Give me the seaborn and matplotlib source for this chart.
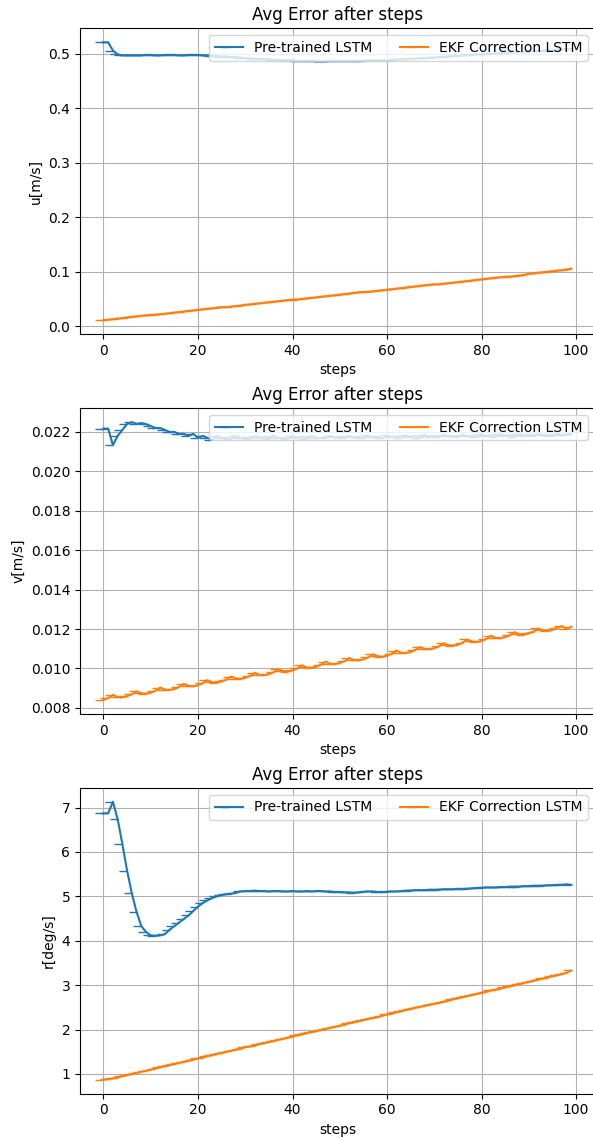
import matplotlib
matplotlib.use("Agg")
import matplotlib.pyplot as plt
import pandas as pd
import seaborn as sns

# x axis
steps = list(range(100))

# u[m/s]
u_pretrained = [
    0.521, 0.521, 0.506, 0.499, 0.497, 0.497, 0.497, 0.497, 0.497, 0.498,
    0.498, 0.497, 0.497, 0.498, 0.498, 0.498, 0.497, 0.497, 0.498, 0.498,
    0.498, 0.497, 0.497, 0.496, 0.496, 0.495, 0.495, 0.494, 0.494, 0.493,
    0.492, 0.492, 0.491, 0.491, 0.490, 0.490, 0.489, 0.489, 0.488, 0.488,
    0.488, 0.487, 0.487, 0.487, 0.487, 0.486, 0.486, 0.486, 0.487, 0.487,
    0.487, 0.487, 0.487, 0.487, 0.487, 0.487, 0.488, 0.488, 0.488, 0.488,
    0.488, 0.489, 0.489, 0.490, 0.490, 0.491, 0.491, 0.492, 0.492, 0.493,
    0.493, 0.494, 0.494, 0.495, 0.496, 0.496, 0.497, 0.497, 0.498, 0.499,
    0.499, 0.500, 0.500, 0.501, 0.501, 0.502, 0.502, 0.503, 0.503, 0.504,
    0.504, 0.505, 0.505, 0.506, 0.506, 0.507, 0.507, 0.508, 0.508, 0.509,
]
u_ekf = [
    0.011, 0.012, 0.013, 0.014, 0.015, 0.016, 0.017, 0.018, 0.019, 0.020,
    0.021, 0.021, 0.022, 0.023, 0.024, 0.025, 0.026, 0.027, 0.028, 0.029,
    0.030, 0.031, 0.032, 0.033, 0.034, 0.035, 0.035, 0.036, 0.037, 0.038,
    0.039, 0.040, 0.041, 0.042, 0.043, 0.044, 0.045, 0.046, 0.047, 0.048,
    0.049, 0.049, 0.050, 0.051, 0.052, 0.053, 0.054, 0.055, 0.056, 0.057,
    0.058, 0.059, 0.060, 0.061, 0.062, 0.063, 0.063, 0.064, 0.065, 0.066,
    0.067, 0.068, 0.069, 0.070, 0.071, 0.072, 0.073, 0.074, 0.075, 0.076,
    0.077, 0.077, 0.078, 0.079, 0.080, 0.081, 0.082, 0.083, 0.084, 0.085,
    0.086, 0.087, 0.088, 0.089, 0.090, 0.091, 0.091, 0.092, 0.093, 0.094,
    0.096, 0.097, 0.098, 0.099, 0.100, 0.101, 0.102, 0.103, 0.104, 0.106,
]

# v[m/s]
v_pretrained = [
    0.02217, 0.02217, 0.02133, 0.0218, 0.0221, 0.0224, 0.0225, 0.0224, 0.02245, 0.0224,
    0.0223, 0.0222, 0.0222, 0.0221, 0.0220, 0.0220, 0.0219, 0.0219, 0.0218, 0.0219,
    0.0217, 0.0218, 0.0217, 0.0216, 0.0218, 0.0217, 0.0217, 0.02165, 0.0218, 0.0217,
    0.0217, 0.02165, 0.0218, 0.0217, 0.02175, 0.02165, 0.0218, 0.0217, 0.0217, 0.02165,
    0.0218, 0.0217, 0.02175, 0.02165, 0.0218, 0.0217, 0.0217, 0.02168, 0.0218, 0.02172,
    0.02175, 0.02168, 0.0218, 0.02172, 0.02175, 0.02168, 0.02182, 0.02173, 0.02176, 0.02168,
    0.02182, 0.02174, 0.02177, 0.0217, 0.02183, 0.02175, 0.02178, 0.0217, 0.02184, 0.02176,
    0.02179, 0.02172, 0.02185, 0.02177, 0.0218, 0.02173, 0.02186, 0.02178, 0.02181, 0.02174,
    0.02187, 0.02179, 0.02182, 0.02175, 0.02188, 0.0218, 0.02183, 0.02176, 0.02189, 0.02181,
    0.02184, 0.02177, 0.0219, 0.02182, 0.02185, 0.02178, 0.0219, 0.02183, 0.02186, 0.0219,
]
v_ekf = [
    0.00840, 0.00850, 0.00866, 0.00855, 0.00853, 0.00859, 0.00869, 0.00884, 0.00874, 0.00872,
    0.00878, 0.00887, 0.00903, 0.00893, 0.00891, 0.00896, 0.00906, 0.00922, 0.00912, 0.00909,
    0.00915, 0.00925, 0.00941, 0.00930, 0.00928, 0.00934, 0.00944, 0.00959, 0.00949, 0.00947,
    0.00953, 0.00962, 0.00978, 0.00968, 0.00966, 0.00971, 0.00981, 0.00997, 0.00987, 0.00984,
    0.00990, 0.01000, 0.01016, 0.01005, 0.01003, 0.01009, 0.01019, 0.01034, 0.01024, 0.01022,
    0.01028, 0.01037, 0.01053, 0.01043, 0.01041, 0.01046, 0.01056, 0.01072, 0.01062, 0.01059,
    0.01065, 0.01075, 0.01091, 0.01080, 0.01078, 0.01084, 0.01094, 0.01109, 0.01099, 0.01097,
    0.01103, 0.01112, 0.01128, 0.01118, 0.01116, 0.01121, 0.01131, 0.01147, 0.01137, 0.01134,
    0.01140, 0.01150, 0.01166, 0.01155, 0.01153, 0.01159, 0.01169, 0.01184, 0.01174, 0.01172,
    0.01178, 0.01187, 0.01203, 0.01193, 0.01191, 0.01196, 0.01206, 0.01215, 0.01200, 0.01212,
]

# r[deg/s]
r_pretrained = [
    6.87, 6.87, 7.13, 6.74, 6.18, 5.58, 5.07, 4.65, 4.33, 4.20,
    4.12, 4.11, 4.12, 4.15, 4.25, 4.33, 4.41, 4.49, 4.57, 4.67,
    4.77, 4.85, 4.91, 4.96, 5.00, 5.03, 5.05, 5.06, 5.08, 5.11,
    5.12, 5.12, 5.13, 5.12, 5.12, 5.11, 5.12, 5.12, 5.11, 5.11,
    5.12, 5.11, 5.11, 5.12, 5.11, 5.12, 5.12, 5.11, 5.11, 5.10,
    5.10, 5.09, 5.09, 5.08, 5.09, 5.10, 5.11, 5.11, 5.10, 5.10,
    5.10, 5.11, 5.11, 5.12, 5.13, 5.13, 5.14, 5.14, 5.14, 5.15,
    5.15, 5.15, 5.16, 5.16, 5.16, 5.17, 5.17, 5.17, 5.18, 5.19,
    5.19, 5.20, 5.20, 5.20, 5.21, 5.21, 5.22, 5.22, 5.22, 5.23,
    5.23, 5.24, 5.24, 5.24, 5.25, 5.25, 5.26, 5.26, 5.27, 5.26,
]
r_ekf = [
    0.87, 0.88, 0.90, 0.92, 0.95, 0.97, 1.00, 1.02, 1.05, 1.07,
    1.10, 1.12, 1.15, 1.17, 1.20, 1.22, 1.25, 1.27, 1.30, 1.32,
    1.35, 1.37, 1.40, 1.42, 1.45, 1.47, 1.50, 1.52, 1.55, 1.57,
    1.60, 1.62, 1.64, 1.67, 1.69, 1.72, 1.74, 1.77, 1.79, 1.82,
    1.84, 1.87, 1.89, 1.92, 1.94, 1.96, 1.99, 2.01, 2.04, 2.06,
    2.09, 2.11, 2.14, 2.16, 2.19, 2.21, 2.24, 2.26, 2.28, 2.31,
    2.34, 2.36, 2.39, 2.41, 2.44, 2.46, 2.49, 2.51, 2.54, 2.56,
    2.58, 2.60, 2.63, 2.65, 2.68, 2.70, 2.73, 2.75, 2.78, 2.80,
    2.83, 2.85, 2.88, 2.90, 2.92, 2.95, 2.97, 3.00, 3.02, 3.05,
    3.07, 3.10, 3.12, 3.15, 3.17, 3.20, 3.22, 3.25, 3.28, 3.33,
]

labels = ["Pre-trained LSTM", "EKF Correction LSTM"]
ylabels = ["u[m/s]", "v[m/s]", "r[deg/s]"]
series = [(u_pretrained, u_ekf), (v_pretrained, v_ekf), (r_pretrained, r_ekf)]
colors = ["#1f77b4", "#ff7f0e"]

fig, axes = plt.subplots(3, 1, figsize=(5.93, 11.38), dpi=100)
fig.subplots_adjust(left=0.135, right=1.003, top=0.975, bottom=0.039, hspace=0.242)

for ax, ylab, (pre, ekf) in zip(axes, ylabels, series):
    df = pd.DataFrame({"steps": steps, labels[0]: pre, labels[1]: ekf})
    for name, c in zip(labels, colors):
        # tick-left markers, like the original
        sns.lineplot(data=df, x="steps", y=name, ax=ax, color=c, label=name,
                     marker=0, markersize=6, markeredgecolor=c,
                     markeredgewidth=1.0, linewidth=1.5)
    ax.set_title("Avg Error after steps")
    ax.set_xlabel("steps")
    ax.set_ylabel(ylab)
    ax.grid(True)
    ax.legend(loc="upper right", ncol=2)

fig.savefig("out.png", dpi=100)
